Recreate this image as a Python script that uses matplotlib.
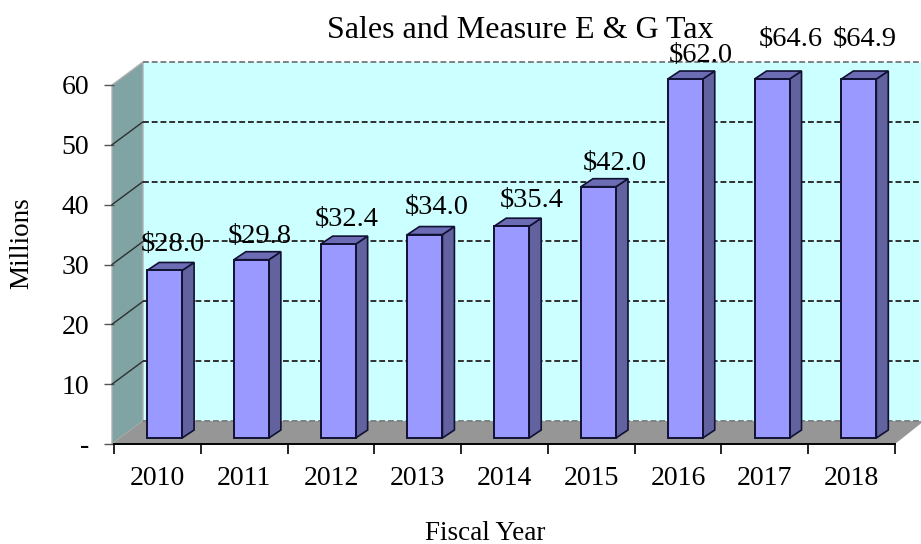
import matplotlib
matplotlib.use('Agg')
import matplotlib.pyplot as plt
from matplotlib.patches import Polygon

years = ['2010', '2011', '2012', '2013', '2014', '2015', '2016', '2017', '2018']
sales = [28.0, 29.8, 32.4, 34.0, 35.4, 42.0, 62.0, 64.6, 64.9]
y_ticks = [0, 10, 20, 30, 40, 50, 60]
y_tick_labels = ['-', '10', '20', '30', '40', '50', '60']

# label nudges in pixels, the originals were moved by hand
label_dx = [8.5, 8, 9, 12, 20, 16, 16, 19, 6]
label_dy = [26, 23, 25, 27, 26, 23, 12, 12, 10]

W, H = 921, 544
LEFT, RIGHT, TOP, BOTTOM = 114, 895, 85, 444
YMAX = 60
PX_X = (RIGHT - LEFT) / len(years)
PX_Y = (BOTTOM - TOP) / YMAX

# depth of the fake 3d box and of the bars, data units
box_dx, box_dy = 29 / PX_X, 23 / PX_Y
bar_dx, bar_dy = 12 / PX_X, 8 / PX_Y
bar_w = 35 / PX_X
bar_shift = 7.2 / PX_X
bar_base = 6 / PX_Y
wall_x = -2 / PX_X

plt.rcParams['font.family'] = ['Liberation Serif', 'DejaVu Serif']

fig = plt.figure(figsize=(W / 100, H / 100), dpi=100)
ax = fig.add_axes([LEFT / W, 1 - BOTTOM / H, (RIGHT - LEFT) / W, (BOTTOM - TOP) / H])
ax.set_xlim(0, len(years))
ax.set_ylim(0, YMAX)
ax.patch.set_visible(False)

n = len(years)


def poly(pts, **kw):
    ax.add_patch(Polygon(pts, closed=True, clip_on=False, **kw))


# walls and floor
poly([(box_dx, box_dy), (n + box_dx, box_dy), (n + box_dx, YMAX + box_dy), (box_dx, YMAX + box_dy)],
     facecolor='#CCFFFF', edgecolor='none', zorder=1)
poly([(wall_x, 0), (box_dx, box_dy), (box_dx, YMAX + box_dy), (wall_x, YMAX)],
     facecolor='#80A3A3', edgecolor='#B0B0B0', linewidth=1, zorder=1)
poly([(wall_x, 0), (n, 0), (n + box_dx, box_dy), (box_dx, box_dy)],
     facecolor='#969696', edgecolor='none', zorder=1)

# gridlines on the back wall and the left wall
for t in y_ticks:
    inner = 0 < t < YMAX
    col = '#303030' if inner else '#808080'
    ax.plot([box_dx, n + box_dx], [t + box_dy, t + box_dy], color=col, linewidth=1.4,
            linestyle=(0, (3, 1.5)), clip_on=False, zorder=2)
    if inner:
        ax.plot([wall_x, box_dx], [t, t + box_dy], color='#303030', linewidth=1, clip_on=False, zorder=2)

# bars, cut at the top of the axis like the original
for i, val in enumerate(sales):
    x0 = i + 0.5 + bar_shift - bar_w / 2
    x1 = x0 + bar_w
    top = min(val, YMAX - bar_base + 1.0) if val > YMAX else val
    poly([(x1, bar_base), (x1 + bar_dx, bar_base + bar_dy), (x1 + bar_dx, top + bar_base + bar_dy), (x1, top + bar_base)],
         facecolor='#62629F', edgecolor='#111133', linewidth=1.2, zorder=3)
    poly([(x0, top + bar_base), (x1, top + bar_base), (x1 + bar_dx, top + bar_base + bar_dy), (x0 + bar_dx, top + bar_base + bar_dy)],
         facecolor='#6C6CB4', edgecolor='#111133', linewidth=1.2, zorder=3)
    ax.bar(x0 + bar_w / 2, top, width=bar_w, bottom=bar_base, color='#9999FF', edgecolor='#111133',
           linewidth=1.4, zorder=4, clip_on=False)
    ax.annotate('$' + format(val, '.1f'), xy=(x0 + bar_w / 2, val + bar_base),
                xytext=(label_dx[i] * 0.72, label_dy[i] * 0.72), textcoords='offset points',
                ha='center', va='center', fontsize=20.5, color='black', zorder=6, annotation_clip=False)

for s in ['top', 'right', 'left']:
    ax.spines[s].set_visible(False)
ax.spines['bottom'].set_linewidth(1.4)
ax.spines['bottom'].set_zorder(5)

ax.set_yticks(y_ticks)
ax.set_yticklabels(y_tick_labels, fontsize=20)
ax.tick_params(axis='y', length=7, width=1, color='#555555', pad=11)

ax.set_xticks(range(n + 1))
ax.set_xticklabels([])
ax.set_xticks([i + 0.5 for i in range(n)], minor=True)
ax.set_xticklabels(years, minor=True, fontsize=20)
ax.tick_params(axis='x', which='major', length=7, width=1.2)
ax.tick_params(axis='x', which='minor', length=0, pad=16)

fig.text(520 / W, 1 - 30 / H, 'Sales and Measure E & G Tax', ha='center', va='center', fontsize=23)
fig.text(485 / W, 1 - 533 / H, 'Fiscal Year', ha='center', va='center', fontsize=19.5)
fig.text(22 / W, 1 - 243 / H, 'Millions', ha='center', va='center', rotation=90, fontsize=19.5)

fig.savefig('out.png', dpi=100)
